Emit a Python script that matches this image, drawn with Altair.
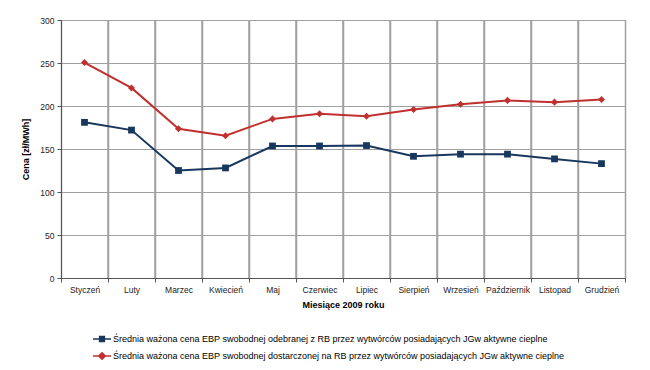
import altair as alt
import pandas as pd

months = ["Styczeń", "Luty", "Marzec", "Kwiecień", "Maj", "Czerwiec", "Lipiec",
          "Sierpień", "Wrzesień", "Październik", "Listopad", "Grudzień"]
odebrana = [181, 172, 125, 128, 153.5, 153.5, 154, 141.5, 144, 144, 138.5, 133]
dostarczona = [250.5, 221, 173.5, 165.5, 185, 191, 188, 196, 202, 206.5, 204.5, 207.5]
series_names = [
    "Średnia ważona cena EBP swobodnej odebranej z RB przez wytwórców posiadających JGw aktywne cieplne",
    "Średnia ważona cena EBP swobodnej dostarczonej na RB przez wytwórców posiadających JGw aktywne cieplne",
]
colors = ["#17375E", "#C0302E"]
y_ticks = [0, 50, 100, 150, 200, 250, 300]

rows = []
for m, v in zip(months, odebrana):
    rows.append({"month": m, "value": v, "series": series_names[0]})
for m, v in zip(months, dostarczona):
    rows.append({"month": m, "value": v, "series": series_names[1]})
df = pd.DataFrame(rows)

FONT = "Liberation Sans"
GRID = "#A0A0A0"

x_scale = alt.Scale(type="band", paddingInner=0, paddingOuter=0, domain=months)
x_axis = alt.Axis(title="Miesiące 2009 roku", tickBand="extent", labelAngle=0, grid=True,
                  gridColor=GRID, gridWidth=1.5, tickColor="#555555", tickWidth=1,
                  labelPadding=3, titlePadding=7, tickSize=4)
x = alt.X("month:N", sort=months, bandPosition=0.5, scale=x_scale, axis=x_axis)
y = alt.Y("value:Q", scale=alt.Scale(domain=[0, 300], nice=False),
          axis=alt.Axis(title="Cena [zł/MWh]", values=y_ticks, labelPadding=3,
                        gridColor=GRID, gridWidth=1,
                        titlePadding=9, tickSize=4))
color_scale = alt.Scale(domain=series_names, range=colors)

# vertical grid lines at the month boundaries (from the month list)
vgrid = alt.Chart(pd.DataFrame({"month": months[1:]})).mark_rule(
    color=GRID, strokeWidth=1.5).encode(
    x=alt.X("month:N", sort=months, bandPosition=0, scale=x_scale, axis=x_axis))

base = alt.Chart(df).encode(x=x, y=y)

sq = "M-1,0L1,0M-0.26,-0.26L0.26,-0.26L0.26,0.26L-0.26,0.26Z"
dia = "M-1,0L1,0M0,-0.36L0.36,0L0,0.36L-0.36,0Z"
leg = alt.Legend(title=None, orient="none", legendX=31, legendY=309, padding=0,
                 symbolSize=324, symbolStrokeWidth=1.6, labelOffset=1, rowPadding=1,
                 labelFontSize=9, labelFont=FONT, labelColor="#000", labelLimit=0,
                 symbolOpacity=1)
legend_layer = base.mark_point(filled=True).encode(
    color=alt.Color("series:N", scale=color_scale, legend=leg),
    stroke=alt.Stroke("series:N", scale=color_scale, legend=leg),
    shape=alt.Shape("series:N", scale=alt.Scale(domain=series_names, range=[sq, dia]), legend=leg),
    opacity=alt.value(0),
)

lines = base.mark_line(strokeWidth=2).encode(
    color=alt.Color("series:N", scale=color_scale))

pts_blue = base.transform_filter(alt.datum.series == series_names[0]).mark_point(
    filled=True, opacity=1, size=46, shape="square").encode(
    color=alt.Color("series:N", scale=color_scale))
pts_red = base.transform_filter(alt.datum.series == series_names[1]).mark_point(
    filled=True, opacity=1, size=50, shape="diamond").encode(
    color=alt.Color("series:N", scale=color_scale))

chart = alt.layer(legend_layer, vgrid, lines, pts_blue, pts_red).properties(
    width=564, height=258,
    autosize=alt.AutoSizeParams(type="none"),
    padding={"left": 53, "top": 12, "right": 17, "bottom": 84},
).configure_view(
    stroke="#666666", strokeWidth=1
).configure_axis(
    domainColor="#555555", tickColor="#555555",
    labelFont=FONT, labelFontSize=8.5, labelColor="#222222",
    titleFont=FONT, titleFontSize=9, titleFontWeight="bold", titleColor="#000000",
)

chart.save("out.html", embed_options={"renderer": "svg", "actions": False})
